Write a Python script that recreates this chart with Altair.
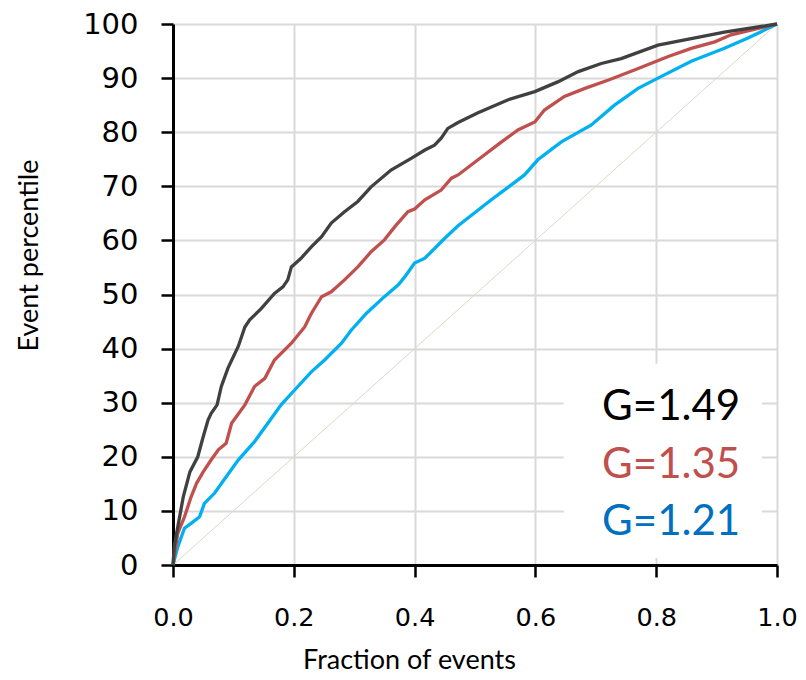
import altair as alt
import pandas as pd

# ---- data ----
black_x = [0, 0.002, 0.008, 0.017, 0.028, 0.041, 0.05, 0.058, 0.063, 0.073, 0.08, 0.091, 0.108, 0.119, 0.127,
           0.146, 0.168, 0.182, 0.19, 0.196, 0.212, 0.229, 0.246, 0.262, 0.284, 0.306, 0.328, 0.361, 0.395,
           0.417, 0.433, 0.444, 0.455, 0.472, 0.505, 0.555, 0.599, 0.637, 0.671, 0.709, 0.742, 0.803, 0.858,
           0.913, 1.0]
black_y = [0, 3.4, 7.1, 12.6, 17.2, 20, 23.7, 26.8, 28, 29.6, 33, 36.4, 40.4, 44, 45.3,
           47.4, 50.2, 51.4, 52.7, 55.1, 56.7, 58.8, 60.7, 63.2, 65.3, 67.2, 69.9, 73, 75.2,
           76.7, 77.6, 78.9, 80.7, 81.8, 83.6, 86, 87.5, 89.3, 91.2, 92.7, 93.6, 96.1, 97.3,
           98.5, 100]

red_x = [0, 0.001, 0.008, 0.019, 0.030, 0.039, 0.05, 0.063, 0.075, 0.088, 0.097, 0.119, 0.135, 0.152,
         0.168, 0.196, 0.218, 0.229, 0.246, 0.262, 0.284, 0.306, 0.328, 0.350, 0.367, 0.389, 0.400, 0.417,
         0.444, 0.461, 0.472, 0.505, 0.544, 0.571, 0.599, 0.615, 0.648, 0.682, 0.720, 0.764, 0.820, 0.858,
         0.897, 0.924, 1.0]
red_y = [0, 0.9, 5.9, 8.9, 12.6, 15.1, 17.2, 19.4, 21.3, 22.5, 26.2, 29.6, 33, 34.5,
         37.9, 41, 44, 46.5, 49.6, 50.5, 52.7, 55.1, 57.9, 60.1, 62.5, 65.3, 65.8, 67.5,
         69.3, 71.5, 72.1, 74.9, 78.2, 80.4, 81.9, 84.1, 86.6, 88.1, 89.6, 91.5, 94, 95.5,
         96.7, 98.0, 100]

blue_x = [0, 0.008, 0.019, 0.030, 0.044, 0.052, 0.069, 0.086, 0.108, 0.135, 0.157, 0.179, 0.201, 0.229,
          0.251, 0.279, 0.295, 0.320, 0.350, 0.373, 0.384, 0.400, 0.417, 0.450, 0.472, 0.527, 0.582, 0.604,
          0.643, 0.692, 0.731, 0.770, 0.803, 0.858, 0.913, 0.952, 1.0]
blue_y = [0, 3.4, 6.8, 7.7, 8.9, 11.4, 13.3, 16, 19.4, 22.8, 26.2, 29.6, 32.3, 35.7,
          37.9, 41, 43.4, 46.5, 49.6, 51.8, 53.3, 55.8, 56.7, 60.4, 62.7, 67.5, 72.1, 74.9,
          78.2, 81.3, 85, 88.1, 90, 93.1, 95.5, 97.4, 100]

diag_x = [0, 1]
diag_y = [0, 100]

series_names = ["G=1.21", "G=1.35", "G=1.49"]
line_colors = ["#00B0F0", "#C0504D", "#404040"]
label_colors = ["#0070C0", "#C0504D", "#000000"]
label_x = [0.939, 0.939, 0.939]
label_y = [5.5, 16.1, 26.8]

x_ticks = [0, 0.2, 0.4, 0.6, 0.8, 1.0]
y_ticks = [0, 10, 20, 30, 40, 50, 60, 70, 80, 90, 100]

# annotation backdrop extents (data units)
box_x = [0.647, 0.975]
box_y = [1.3, 37.2]

# ---- build tables ----
rows = []
for name, xs, ys in [("G=1.21", blue_x, blue_y), ("G=1.35", red_x, red_y), ("G=1.49", black_x, black_y)]:
    for i, (a, b) in enumerate(zip(xs, ys)):
        rows.append({"series": name, "x": a, "y": b, "order": i})
lines_df = pd.DataFrame(rows)
diag_df = pd.DataFrame({"x": diag_x, "y": diag_y})
labels_df = pd.DataFrame({"series": series_names, "x": label_x, "y": label_y})
box_df = pd.DataFrame({"x": [box_x[0]], "x2": [box_x[1]], "y": [box_y[0]], "y2": [box_y[1]]})

xscale = alt.Scale(domain=[0, 1], nice=False, zero=False)
yscale = alt.Scale(domain=[0, 100], nice=False, zero=False)

xaxis = alt.Axis(values=x_ticks, format=".1f", title="Fraction of events",
                 labelFont="DejaVu Sans", labelFontSize=25.5, labelColor="black",
                 labelBaseline="alphabetic", labelPadding=48,
                 tickSize=12, tickColor="black", tickWidth=2.5,
                 domainColor="black", domainWidth=3,
                 grid=True, gridColor="#D9D9D9", gridWidth=2,
                 titleFont="Lato", titleFontSize=27, titleFontWeight="normal", titleColor="black",
                 titleBaseline="alphabetic", titleX=236, titleY=103, labelFlush=False)
yaxis = alt.Axis(values=y_ticks, title="Event percentile",
                 labelFont="DejaVu Sans", labelFontSize=29, labelColor="black",
                 labelPadding=23,
                 tickSize=12, tickColor="black", tickWidth=2.5,
                 domainColor="black", domainWidth=3,
                 grid=True, gridColor="#D9D9D9", gridWidth=2,
                 titleFont="Lato", titleFontSize=27, titleFontWeight="normal", titleColor="black",
                 titleBaseline="alphabetic", titleX=-136, titleY=231, titleAngle=270, labelFlush=False)

diag = alt.Chart(diag_df).mark_line(color="#DDD9C3", strokeWidth=1).encode(
    x=alt.X("x:Q", scale=xscale, axis=xaxis),
    y=alt.Y("y:Q", scale=yscale, axis=yaxis),
)

box = alt.Chart(box_df).mark_rect(color="white").encode(
    x="x:Q", x2="x2:Q", y="y:Q", y2="y2:Q"
)

lines = alt.Chart(lines_df).mark_line(strokeWidth=3.3).encode(
    x="x:Q",
    y="y:Q",
    color=alt.Color("series:N", scale=alt.Scale(domain=series_names, range=line_colors), legend=None),
    detail="series:N",
    order="order:Q",
)

texts = alt.Chart(labels_df).mark_text(font="Lato", fontSize=42, align="right", baseline="alphabetic").encode(
    x="x:Q",
    y="y:Q",
    text="series:N",
    color=alt.Color("series:N", scale=alt.Scale(domain=series_names, range=label_colors), legend=None),
)

chart = alt.layer(diag, box, lines, texts).resolve_scale(color="independent").properties(
    width=604, height=541,
    autosize=alt.AutoSizeParams(type="none"),
    padding={"left": 165, "top": 16, "right": 21, "bottom": 110},
).configure_view(stroke="black", strokeWidth=2).configure(background="white")

chart.save("out.html", embed_options={"renderer": "svg", "actions": False})
